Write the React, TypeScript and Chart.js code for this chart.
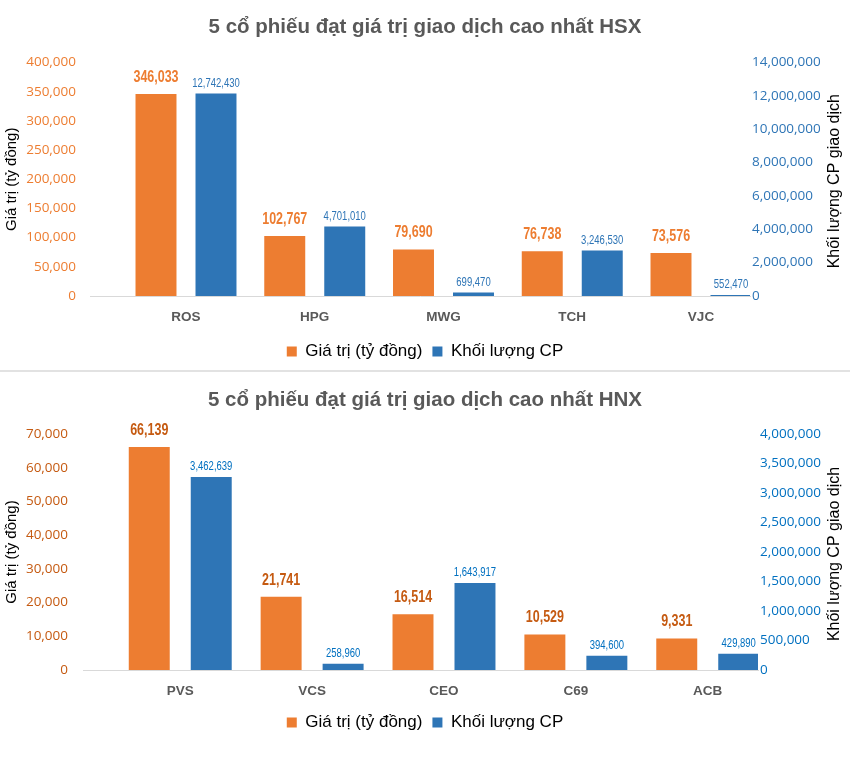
import React, { useEffect, useRef } from 'react';
import { Chart, registerables } from 'chart.js';

Chart.register(...registerables);

// ---------------- Data: HSX ----------------
const hsxTitle = '5 cổ phiếu đạt giá trị giao dịch cao nhất HSX';
const hsxCategories = ['ROS', 'HPG', 'MWG', 'TCH', 'VJC'];
const hsxValues = [346033, 102767, 79690, 76738, 73576];
const hsxVolumes = [12742430, 4701010, 699470, 3246530, 552470];
const hsxLeftTicks = [0, 50000, 100000, 150000, 200000, 250000, 300000, 350000, 400000];
const hsxRightTicks = [0, 2000000, 4000000, 6000000, 8000000, 10000000, 12000000, 14000000];

// ---------------- Data: HNX ----------------
const hnxTitle = '5 cổ phiếu đạt giá trị giao dịch cao nhất HNX';
const hnxCategories = ['PVS', 'VCS', 'CEO', 'C69', 'ACB'];
const hnxValues = [66139, 21741, 16514, 10529, 9331];
const hnxVolumes = [3462639, 258960, 1643917, 394600, 429890];
const hnxLeftTicks = [0, 10000, 20000, 30000, 40000, 50000, 60000, 70000];
const hnxRightTicks = [0, 500000, 1000000, 1500000, 2000000, 2500000, 3000000, 3500000, 4000000];

const seriesLabels = ['Giá trị (tỷ đồng)', 'Khối lượng CP'];
const leftAxisTitle = 'Giá trị (tỷ đồng)';
const rightAxisTitle = 'Khối lượng CP giao dịch';

const ORANGE = '#ED7D31';
const BLUE = '#2E75B6';
const SANS = '"Liberation Sans", Arial, sans-serif';
const TICK_FONT = '"Open Sans", "Liberation Sans", sans-serif';

const fmt = (v: number) => Number(v).toLocaleString('en-US');

type Spec = {
  title: string;
  categories: string[];
  values: number[];
  volumes: number[];
  leftTicks: number[];
  rightTicks: number[];
  height: number;
  areaLeft: number;
  areaRight: number;
  xMin: number;
  xMax: number;
  catPct: number;
  barPct: number;
  volMin: number;
  volMax: number;
  valueMax: number;
  axisMax: number;
  orangeText: string;
  blueText: string;
  leftTickColor: string;
  rightTickColor: string;
  titlePadTop: number;
  titlePadBottom: number;
  xAxisHeight: number;
  xTickPad: number;
  layoutPadBottom: number;
  leftTickPad: number;
  rightTickPad: number;
};

const TITLE_SIZE = 20.5;
const TITLE_LH = TITLE_SIZE * 1.2;

const hsxSpec: Spec = {
  title: hsxTitle,
  categories: hsxCategories,
  values: hsxValues,
  volumes: hsxVolumes,
  leftTicks: hsxLeftTicks,
  rightTicks: hsxRightTicks,
  height: 370,
  areaLeft: 90,
  areaRight: 750,
  xMin: -0.7456,
  xMax: 4.3806,
  catPct: 0.932,
  barPct: 0.683,
  volMin: 490000,
  volMax: 14616000,
  valueMax: 400000,
  axisMax: 14000000,
  orangeText: '#ED7D31',
  blueText: '#2E75B6',
  leftTickColor: '#ED7D31',
  rightTickColor: '#2E75B6',
  titlePadTop: 27 - TITLE_LH / 2,
  titlePadBottom: 62.5 - (27 + TITLE_LH / 2),
  xAxisHeight: 37,
  xTickPad: 13.5,
  layoutPadBottom: 0,
  leftTickPad: 14,
  rightTickPad: 2,
};

const hnxSpec: Spec = {
  title: hnxTitle,
  categories: hnxCategories,
  values: hnxValues,
  volumes: hnxVolumes,
  leftTicks: hnxLeftTicks,
  rightTicks: hnxRightTicks,
  height: 399,
  areaLeft: 83,
  areaRight: 758,
  xMin: -0.7374,
  xMax: 4.3811,
  catPct: 0.94,
  barPct: 0.661,
  volMin: 150000,
  volMax: 4201500,
  valueMax: 70000,
  axisMax: 4000000,
  orangeText: '#C55A11',
  blueText: '#0070C0',
  leftTickColor: '#C55A11',
  rightTickColor: '#0070C0',
  titlePadTop: 28 - TITLE_LH / 2,
  titlePadBottom: 62 - (28 + TITLE_LH / 2),
  xAxisHeight: 34,
  xTickPad: 13,
  layoutPadBottom: 30,
  leftTickPad: 15,
  rightTickPad: 2,
};

function buildConfig(spec: Spec): any {
  const W = 850;

  const labelsPlugin = {
    id: 'valueLabels',
    afterDatasetsDraw(chart: any) {
      const ctx = chart.ctx;
      const styles = [
        { font: `bold 16px ${SANS}`, color: spec.orangeText, offset: 16.5, sx: 0.78 },
        { font: `12.5px ${SANS}`, color: spec.blueText, offset: 10, sx: 0.76 },
      ];
      chart.data.datasets.forEach((ds: any, di: number) => {
        const meta = chart.getDatasetMeta(di);
        const st = styles[di];
        meta.data.forEach((el: any, i: number) => {
          ctx.save();
          ctx.font = st.font;
          ctx.fillStyle = st.color;
          ctx.textAlign = 'center';
          ctx.textBaseline = 'middle';
          ctx.translate(el.x, el.y - st.offset);
          ctx.scale(st.sx, 1);
          ctx.fillText(fmt(ds.data[i].y), 0, 0);
          ctx.restore();
        });
      });
    },
  };

  const rightTitlePlugin = {
    id: 'rightTitle',
    afterDraw(chart: any) {
      const ctx = chart.ctx;
      const a = chart.chartArea;
      ctx.save();
      ctx.translate(835, (a.top + a.bottom) / 2 + 2);
      ctx.rotate(-Math.PI / 2);
      ctx.font = `16px ${SANS}`;
      ctx.fillStyle = '#000000';
      ctx.textAlign = 'center';
      ctx.textBaseline = 'middle';
      ctx.fillText(rightAxisTitle, 0, 0);
      ctx.restore();
    },
  };

  return {
    type: 'bar',
    data: {
      datasets: [
        {
          label: seriesLabels[0],
          data: spec.values.map((v, i) => ({ x: i, y: v })),
          backgroundColor: ORANGE,
          yAxisID: 'y',
          xAxisID: 'x',
          categoryPercentage: spec.catPct,
          barPercentage: spec.barPct,
        },
        {
          label: seriesLabels[1],
          data: spec.volumes.map((v, i) => ({ x: i, y: v })),
          backgroundColor: BLUE,
          yAxisID: 'yVol',
          xAxisID: 'x',
          categoryPercentage: spec.catPct,
          barPercentage: spec.barPct,
        },
      ],
    },
    options: {
      responsive: false,
      maintainAspectRatio: false,
      animation: false,
      devicePixelRatio: 1,
      layout: { padding: { left: 0, right: 0, top: 0, bottom: spec.layoutPadBottom } },
      scales: {
        x: {
          type: 'linear',
          position: 'bottom',
          offset: false,
          min: spec.xMin,
          max: spec.xMax,
          grid: { display: false, drawTicks: false, offset: false },
          border: { display: true, color: '#D9D9D9', width: 1 },
          afterBuildTicks: (s: any) => {
            s.ticks = spec.categories.map((_, i) => ({ value: i }));
          },
          afterFit: (s: any) => {
            s.height = spec.xAxisHeight;
          },
          ticks: {
            autoSkip: false,
            maxRotation: 0,
            padding: spec.xTickPad,
            color: '#595959',
            font: { family: SANS, size: 13.5, weight: 'bold' },
            callback: (v: any) => spec.categories[Math.round(Number(v))] ?? '',
          },
        },
        y: {
          type: 'linear',
          position: 'left',
          min: 0,
          max: spec.valueMax,
          grid: { display: false, drawTicks: false },
          border: { display: false },
          afterBuildTicks: (s: any) => {
            s.ticks = spec.leftTicks.map((v) => ({ value: v }));
          },
          afterFit: (s: any) => {
            s.width = spec.areaLeft;
          },
          ticks: {
            padding: spec.leftTickPad,
            color: spec.leftTickColor,
            font: { family: TICK_FONT, size: 13.5 },
            callback: (v: any) => fmt(v),
          },
          title: {
            display: true,
            text: leftAxisTitle,
            color: '#000000',
            font: { family: SANS, size: 15 },
            padding: { top: 3, bottom: 0 },
          },
        },
        y1: {
          type: 'linear',
          position: 'right',
          min: 0,
          max: spec.axisMax,
          grid: { display: false, drawTicks: false },
          border: { display: false },
          afterBuildTicks: (s: any) => {
            s.ticks = spec.rightTicks.map((v) => ({ value: v }));
          },
          afterFit: (s: any) => {
            s.width = W - spec.areaRight;
          },
          ticks: {
            padding: spec.rightTickPad,
            color: spec.rightTickColor,
            font: { family: TICK_FONT, size: 13.5 },
            callback: (v: any) => fmt(v),
          },
        },
        yVol: {
          type: 'linear',
          position: 'right',
          display: false,
          min: spec.volMin,
          max: spec.volMax,
        },
      },
      plugins: {
        title: {
          display: true,
          text: spec.title,
          color: '#595959',
          font: { family: SANS, size: TITLE_SIZE, weight: 'bold' },
          padding: { top: spec.titlePadTop, bottom: spec.titlePadBottom },
        },
        legend: {
          display: true,
          position: 'bottom',
          labels: {
            boxWidth: 10,
            boxHeight: 10,
            padding: 10,
            color: '#000000',
            font: { family: SANS, size: 17 },
          },
        },
        tooltip: { enabled: false },
      },
    },
    plugins: [labelsPlugin, rightTitlePlugin],
  };
}

function ChartCanvas({ spec }: { spec: Spec }) {
  const ref = useRef<HTMLCanvasElement>(null);
  useEffect(() => {
    if (!ref.current) return;
    const chart = new Chart(ref.current, buildConfig(spec));
    return () => chart.destroy();
  }, [spec]);
  return (
    <canvas
      ref={ref}
      width={850}
      height={spec.height}
      style={{ display: 'block', width: 850, height: spec.height }}
    />
  );
}

export default function App() {
  return (
    <div
      style={{
        position: 'absolute',
        left: 0,
        top: 0,
        width: 850,
        height: 771,
        background: '#ffffff',
        overflow: 'hidden',
      }}
    >
      <ChartCanvas spec={hsxSpec} />
      <div style={{ height: 2, background: '#E2E2E2' }} />
      <ChartCanvas spec={hnxSpec} />
    </div>
  );
}
